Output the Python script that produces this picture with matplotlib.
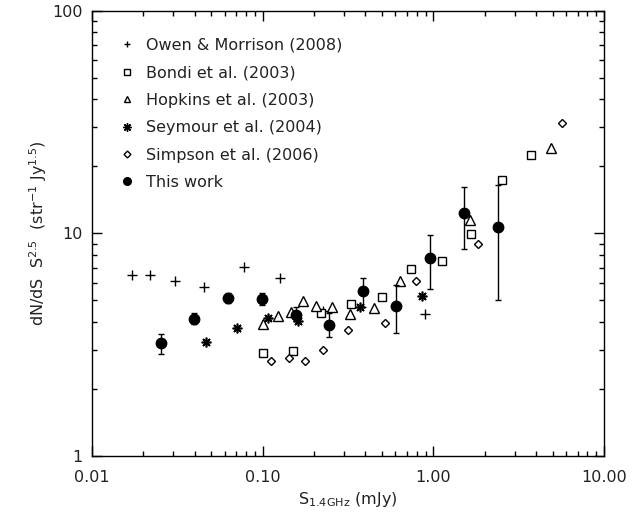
import numpy as np
import matplotlib
matplotlib.use("Agg")
import matplotlib.pyplot as plt
from matplotlib.lines import Line2D
from matplotlib.ticker import FixedLocator, FixedFormatter, NullFormatter

plt.rcParams.update({
    "font.family": "DejaVu Sans", "font.size": 11.5,
    "mathtext.fontset": "dejavusans",
    "text.color": "#222222", "axes.labelcolor": "#222222",
    "xtick.labelcolor": "#222222", "ytick.labelcolor": "#222222",
    "xtick.direction": "in", "ytick.direction": "in",
    "xtick.top": True, "ytick.right": True,
})

# 1.4 GHz differential source counts, Euclidean-normalised (S in mJy)
owen_s = [0.0172, 0.0218, 0.0305, 0.0454, 0.0774, 0.126, 0.226, 0.897]
owen_n = [6.50, 6.52, 6.13, 5.76, 7.04, 6.28, 4.50, 4.34]

bondi_s = [0.100, 0.150, 0.220, 0.331, 0.499, 0.736, 1.12, 1.66, 2.51, 3.76]
bondi_n = [2.91, 2.95, 4.40, 4.80, 5.16, 6.93, 7.53, 9.90, 17.3, 22.4]

hopkins_s = [0.100, 0.123, 0.147, 0.172, 0.206, 0.254, 0.326, 0.448, 0.635,
             1.64, 4.89]
hopkins_n = [3.90, 4.24, 4.45, 4.95, 4.70, 4.65, 4.35, 4.62, 6.11,
             11.5, 24.1]

seymour_s = [0.0468, 0.0711, 0.107, 0.161, 0.373, 0.859]
seymour_n = [3.26, 3.75, 4.15, 4.02, 4.67, 5.21]

simpson_s = [0.112, 0.142, 0.178, 0.2255, 0.3155, 0.522, 0.795, 1.82, 5.70]
simpson_n = [2.66, 2.76, 2.68, 2.99, 3.68, 3.97, 6.11, 8.98, 31.3]

this_s = [0.0252, 0.0398, 0.0626, 0.0991, 0.156, 0.244, 0.386, 0.605,
          0.957, 1.52, 2.38]
this_n = [3.21, 4.14, 5.12, 5.07, 4.30, 3.87, 5.49, 4.72, 7.77, 12.4, 10.7]
this_hi = [3.54, 4.37, 5.38, 5.38, 4.65, 4.37, 6.32, 5.86, 9.83, 16.2, 16.4]
this_lo = [2.87, 3.92, 4.85, 4.75, 4.04, 3.41, 4.68, 3.56, 5.62, 8.53, 5.00]

xticks = [0.01, 0.1, 1.0, 10.0]
xtick_labels = ["0.01", "0.10", "1.00", "10.00"]
yticks = [1, 10, 100]
ytick_labels = ["1", "10", "100"]

fig = plt.figure(figsize=(6.42, 5.13), dpi=100)
ax = fig.add_axes([0.1433, 0.1111, 0.7975, 0.8682])
ax.set_xscale("log")
ax.set_yscale("log")

star = (8, 2, 0)
ax.plot(owen_s, owen_n, ls="none", marker="+", ms=6.5, mew=1.0, color="k")
ax.plot(bondi_s, bondi_n, ls="none", marker="s", ms=6, mew=1.0,
        mfc="white", mec="k")
ax.plot(hopkins_s, hopkins_n, ls="none", marker="^", ms=6.5, mew=1.0,
        mfc="white", mec="k")
ax.plot(seymour_s, seymour_n, ls="none", marker=star, ms=7, mew=1.2,
        color="k")
ax.plot(simpson_s, simpson_n, ls="none", marker="D", ms=4.5, mew=1.0,
        mfc="white", mec="k")

this_n = np.array(this_n)
yerr = [this_n - np.array(this_lo), np.array(this_hi) - this_n]
ax.errorbar(this_s, this_n, yerr=yerr, fmt="o", ms=7.5, color="k",
            ecolor="k", elinewidth=1.0, capsize=2, capthick=1.0)

ax.set_xlim(0.01, 10)
ax.set_ylim(1, 100)
ax.xaxis.set_major_locator(FixedLocator(xticks))
ax.xaxis.set_major_formatter(FixedFormatter(xtick_labels))
ax.xaxis.set_minor_formatter(NullFormatter())
ax.yaxis.set_major_locator(FixedLocator(yticks))
ax.yaxis.set_major_formatter(FixedFormatter(ytick_labels))
ax.yaxis.set_minor_formatter(NullFormatter())
ax.tick_params(which="major", length=7.5, width=1.0)
ax.tick_params(which="minor", length=3.5, width=1.0)
ax.tick_params(axis="x", which="both", pad=10)
ax.tick_params(axis="y", which="both", pad=7)
for sp in ax.spines.values():
    sp.set_linewidth(1.0)

ax.set_xlabel(r"S$_{\mathrm{1.4GHz}}$ (mJy)", labelpad=4)
ax.set_ylabel(r"dN/dS  S$^{2.5}$  (str$^{-1}$ Jy$^{1.5}$)", labelpad=2)

handles = [
    Line2D([], [], ls="none", marker="+", ms=5, mew=1.0, color="k"),
    Line2D([], [], ls="none", marker="s", ms=4.5, mew=1.0, mfc="white", mec="k"),
    Line2D([], [], ls="none", marker="^", ms=5, mew=1.0, mfc="white", mec="k"),
    Line2D([], [], ls="none", marker=star, ms=6, mew=1.0, color="k"),
    Line2D([], [], ls="none", marker="D", ms=3.5, mew=1.0, mfc="white", mec="k"),
    Line2D([], [], ls="none", marker="o", ms=5.5, color="k"),
]
labels = ["Owen & Morrison (2008)", "Bondi et al. (2003)",
          "Hopkins et al. (2003)", "Seymour et al. (2004)",
          "Simpson et al. (2006)", "This work"]
ax.legend(handles, labels, loc="upper left", bbox_to_anchor=(0.043, 0.9535),
          frameon=False, handlelength=0.8, handletextpad=0.8,
          labelspacing=0.78, borderaxespad=0)

fig.savefig("out.png", dpi=100)
